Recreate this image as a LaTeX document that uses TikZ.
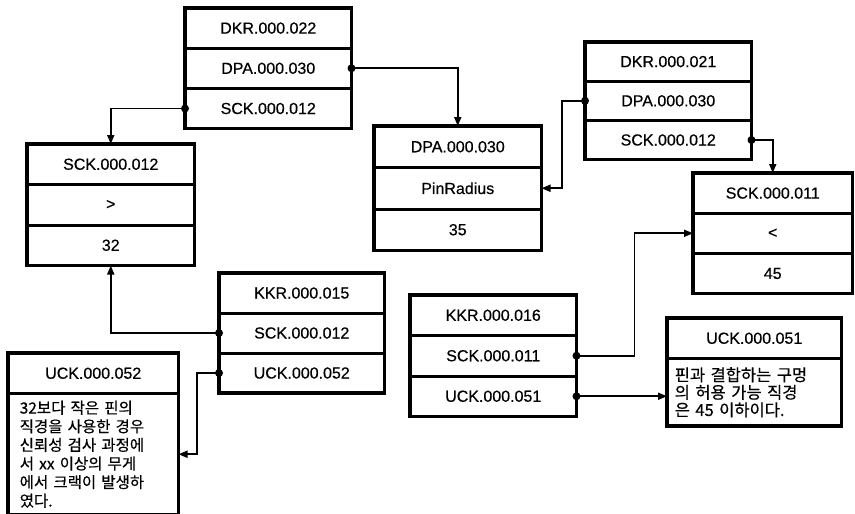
\documentclass[tikz,border=0pt]{standalone}
\usepackage{fontspec}
\setmainfont[FakeBold=0.5]{Liberation Sans}
\newfontfamily\kr[WordSpace=2.2,FakeBold=0.5]{Noto Sans CJK KR}
\usetikzlibrary{arrows.meta}

% three-row record: name, x, y, width, row height, texts
\newcommand\recordbox[8]{%
  \node[cell, minimum width=#4, minimum height=#5] (#1a) at (#2,#3) {#6};
  \node[cell, minimum width=#4, minimum height=#5] (#1b) at (#1a.south west) {#7};
  \node[cell, minimum width=#4, minimum height=#5] (#1c) at (#1b.south west) {#8};
  \draw[frame] (#1a.north west) rectangle (#1c.south east);
}

\begin{document}
\begin{tikzpicture}[x=1pt,y=-1pt,
  cell/.style={draw, line width=1.5pt, inner sep=0pt, anchor=north west,
    font=\fontsize{16}{19}\selectfont, text=black},
  frame/.style={draw, line width=3.4pt},
  conn/.style={line width=1.8pt, -{Triangle[length=9pt,width=7pt]}},
  dot/.style={fill=black}
]
\useasboundingbox (0,0) rectangle (855,514);

% records
\recordbox{d22}{185}{8}{165}{38.7}{DKR.000.022}{DPA.000.030}{SCK.000.012}
\recordbox{s12}{27}{144}{166}{39}{SCK.000.012}{>}{32}
\recordbox{dpa}{374}{126}{166}{40}{DPA.000.030}{PinRadius}{35}
\recordbox{d21}{585}{42}{165}{37.7}{DKR.000.021}{DPA.000.030}{SCK.000.012}
\recordbox{s11}{693}{173}{158}{38.7}{SCK.000.011}{<}{45}
\recordbox{k15}{219}{273}{164}{38.5}{KKR.000.015}{SCK.000.012}{UCK.000.052}
\recordbox{k16}{410}{295}{165}{39}{KKR.000.016}{SCK.000.011}{UCK.000.051}

% note boxes
\node[cell, minimum width=169, minimum height=39] (u52a) at (8,353) {UCK.000.052};
\node[cell, minimum width=169, minimum height=120, align=left, inner xsep=11pt,
  text width=147pt, font=\kr\fontsize{15.5}{18.6}\selectfont] (u52b) at (u52a.south west)
  {32보다 작은 핀의\\직경을 사용한 경우\\신뢰성 검사 과정에\\서 xx 이상의 무게\\에서 크랙이 발생하\\였다.};
\draw[frame] (u52a.north west) rectangle (u52b.south east);

\node[cell, minimum width=173, minimum height=39] (u51a) at (667,318) {UCK.000.051};
\node[cell, minimum width=173, minimum height=66, align=left, inner xsep=7pt,
  text width=159pt, font=\kr\fontsize{16.5}{17.5}\selectfont] (u51b) at (u51a.south west)
  {핀과 결합하는 구멍\\의 허용 가능 직경\\은 45 이하이다.};
\draw[frame] (u51a.north west) rectangle (u51b.south east);

% links
\draw[conn] (d22b.east) -| (dpaa.north);
\draw[conn] (d22c.west) -| (s12a.north);
\draw[conn] (d21b.west) -- ++(-23,0) |- (dpab.east);
\draw[conn] (d21c.east) -| (s11a.north);
\draw[conn] (k15b.west) -| (s12c.south);
\draw[conn] (k15c.west) -- ++(-22,0) |- (u52b.east);
\draw[conn] (k16b.east) -- ++(58,0) |- (s11b.west);
\draw[conn] (k16c.east) -- (k16c.east -| u51b.west);

% junction dots
\foreach \p in {d22b.east, d22c.west, d21b.west, d21c.east,
                k15b.west, k15c.west, k16b.east, k16c.east}
  \fill[dot] (\p) circle (4);
\end{tikzpicture}
\end{document}
